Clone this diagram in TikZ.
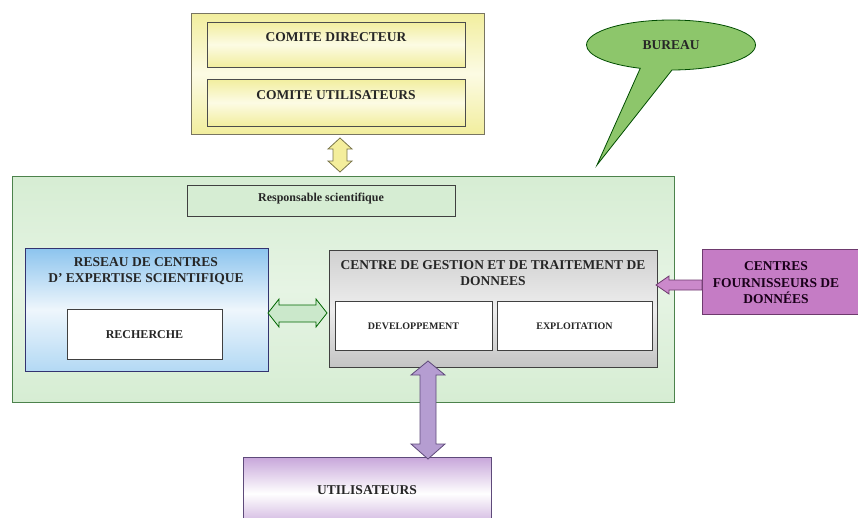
\documentclass[tikz,border=0pt]{standalone}
\usepackage{fontspec}
\setmainfont{Liberation Serif}
\usetikzlibrary{shapes.callouts}
\definecolor{yedge}{HTML}{F2EE9E}
\definecolor{ymid}{HTML}{FCFBE4}
\definecolor{gmain}{HTML}{D6EDD3}
\definecolor{gmid}{HTML}{E6F4E4}
\definecolor{bluetop}{HTML}{8CC4EE}
\definecolor{bluemid}{HTML}{EEF6FC}
\definecolor{bluebot}{HTML}{B3D9F4}
\definecolor{graytop}{HTML}{D0D0D0}
\definecolor{graymid}{HTML}{EDEDED}
\definecolor{graybot}{HTML}{C4C4C4}
\definecolor{orchid}{HTML}{C57CC5}
\definecolor{orchidline}{HTML}{6E3A6E}
\definecolor{lav}{HTML}{B59DD1}
\definecolor{lavline}{HTML}{5E4A7A}
\definecolor{lavtop}{HTML}{C7A6DA}
\definecolor{bgreen}{HTML}{8DC66B}
\definecolor{arrgreen}{HTML}{CBE8CB}
\definecolor{ylarrow}{HTML}{F4EE9C}
\tikzset{
  box/.style={draw=#1, line width=0.8pt, inner sep=0pt},
  lbl/.style 2 args={font=\bfseries\fontsize{#1}{#2}\selectfont, align=center, text=black!85},
  blockarrow/.style={line width=0.8pt, line join=miter},
}
\begin{document}
\begin{tikzpicture}[x=1pt,y=-1pt]
\useasboundingbox (0,0) rectangle (858,517);
% yellow group
\path[box=gray!70!yellow!60!black, top color=yedge, bottom color=yedge, middle color=ymid] (191,13) rectangle (484,134);
\path[box=black!70, top color=yedge, bottom color=yedge, middle color=ymid] (207,22) rectangle (465,67);
\node[lbl={13.5}{16}] (cdir) at (336,37) {COMITE DIRECTEUR};
\path[box=black!70, top color=yedge, bottom color=yedge, middle color=ymid] (207,79) rectangle (465,126);
\node[lbl={13.5}{16}] (cutil) at (336,95) {COMITE UTILISATEURS};
% main green box
\path[box=green!30!black!70, top color=gmain, bottom color=gmain, middle color=gmid] (12,176) rectangle (674,402);
\path[box=black!75, fill=gmain] (187,185) rectangle (455,216);
\node[lbl={12}{14}] (resp) at (321,199) {Responsable scientifique};
% blue box
\path[box=blue!30!black!80, top color=bluetop, bottom color=bluebot, middle color=bluemid] (25,248) rectangle (268,371);
\node[lbl={13.5}{16}] (reseau) at (146,271) {RESEAU DE CENTRES\\D' EXPERTISE SCIENTIFIQUE};
\path[box=black!75, fill=white] (67,309) rectangle (222,359);
\node[lbl={12}{14}] (rech) at (144.5,335) {RECHERCHE};
% gray box
\path[box=black!75, top color=graytop, bottom color=graybot, middle color=graymid] (329,250) rectangle (657,367);
\node[lbl={13.5}{16}] (cgt) at (493,273) {CENTRE DE GESTION ET DE TRAITEMENT DE\\DONNEES};
\path[box=black!75, fill=white] (335,301) rectangle (492,350);
\node[lbl={10}{12}] (dev) at (413.5,326) {DEVELOPPEMENT};
\path[box=black!75, fill=white] (497,301) rectangle (652,350);
\node[lbl={10}{12}] (expl) at (574.5,326) {EXPLOITATION};
% fournisseurs
\path[box=orchidline, fill=orchid] (702,249) rectangle (860,314);
\node[lbl={13.5}{16.5}, text=black!80!violet] (fourn) at (776,283) {CENTRES\\FOURNISSEURS DE\\DONNÉES};
% utilisateurs
\path[box=lavline, top color=lavtop, bottom color=lavtop, middle color=white] (243,457) rectangle (491,530);
\node[lbl={13.5}{16}] (users) at (367,490) {UTILISATEURS};
% bureau callout
\node[ellipse callout, draw=black!70!green, line width=0.8pt, fill=bgreen,
  minimum width=169pt, minimum height=50pt, callout absolute pointer={(597,165)},
  callout pointer arc=22, lbl={13.5}{16}] (bureau) at (671,45) {BUREAU};
% yellow vertical double arrow
\draw[blockarrow, draw=black!60!yellow, fill=ylarrow]
  (340,138) -- (352,149) -- (347,149) -- (347,161) -- (352,161) -- (340,172)
  -- (328,161) -- (333,161) -- (333,149) -- (328,149) -- cycle;
% green horizontal double arrow
\draw[blockarrow, draw=black!60!green, fill=arrgreen]
  (268,313) -- (279,299) -- (279,305) -- (316,305) -- (316,299) -- (327,313)
  -- (316,327) -- (316,322) -- (279,322) -- (279,327) -- cycle;
% orchid arrow
\draw[blockarrow, draw=orchidline, fill=orchid!90!white]
  (656,285) -- (669,276) -- (669,280) -- (702,280) -- (702,290) -- (669,290) -- (669,294) -- cycle;
% lavender vertical double arrow
\draw[blockarrow, draw=lavline, fill=lav]
  (428,361) -- (445,375) -- (436,375) -- (436,444) -- (445,444) -- (428,459)
  -- (411,444) -- (420,444) -- (420,375) -- (411,375) -- cycle;
\end{tikzpicture}
\end{document}
